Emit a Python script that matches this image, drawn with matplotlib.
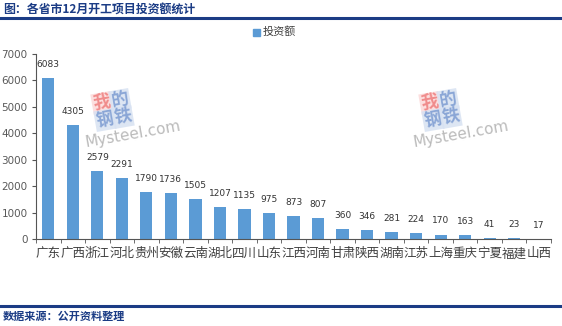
import matplotlib
matplotlib.use("Agg")
import matplotlib.pyplot as plt
from matplotlib.patches import Rectangle

plt.rcParams['font.family'] = ['Noto Sans CJK SC', 'DejaVu Sans']

provinces = ["广东", "广西", "浙江", "河北", "贵州", "安徽", "云南", "湖北", "四川", "山东",
             "江西", "河南", "甘肃", "陕西", "湖南", "江苏", "上海", "重庆", "宁夏", "福建", "山西"]
investment = [6083, 4305, 2579, 2291, 1790, 1736, 1505, 1207, 1135, 975,
              873, 807, 360, 346, 281, 224, 170, 163, 41, 23, 17]
y_ticks = [0, 1000, 2000, 3000, 4000, 5000, 6000, 7000]

W, H = 562, 326
fig = plt.figure(figsize=(W / 100, H / 100), dpi=100)
fig.patch.set_facecolor("white")

def fx(px):
    return px / W

def fy(py):
    return 1 - py / H

ax = fig.add_axes([fx(36), fy(239), fx(551) - fx(36), fy(54) - fy(239)])

bar_color = "#5B9BD5"
x = range(len(provinces))
ax.bar(x, investment, width=0.5, color=bar_color, label="投资额", zorder=2)

for xi, v in zip(x, investment):
    ax.annotate(f"{v}", (xi, v), xytext=(0, 6.5), textcoords="offset points",
                ha="center", va="bottom", fontsize=6.5, color="#333333",
                family="DejaVu Sans")

ax.set_xlim(-0.5, len(provinces) - 0.5)
ax.set_ylim(0, 7000)
ax.set_yticks(y_ticks)
ax.set_yticklabels([str(t) for t in y_ticks], fontsize=7.5, color="#595959", family="DejaVu Sans")
ax.set_xticks(list(x))
ax.set_xticklabels(provinces, fontsize=9, color="#404040")
ax.set_xticks([i + 0.5 for i in range(-1, len(provinces))], minor=True)
ax.tick_params(axis="x", which="major", length=0, pad=6)
ax.tick_params(axis="x", which="minor", length=3, color="#555555", direction="out")
ax.tick_params(axis="y", length=3, color="#555555", pad=3)

for s in ["top", "right"]:
    ax.spines[s].set_visible(False)
for s in ["left", "bottom"]:
    ax.spines[s].set_color("#555555")
    ax.spines[s].set_linewidth(0.8)

# legend
fig.patches.append(Rectangle((fx(253), fy(35.5)), fx(7), fy(28.5) - fy(35.5),
                             transform=fig.transFigure, color=bar_color))
fig.text(fx(263), fy(32), "投资额", fontsize=8, color="#404040", va="center", ha="left")

# header and footer
navy = "#1B3C85"
fig.text(fx(3), fy(9), "图：各省市12月开工项目投资额统计", fontsize=8.6, fontweight="bold",
         color=navy, va="center", ha="left")
fig.add_artist(plt.Line2D([0, 1], [fy(18), fy(18)], color=navy, linewidth=2.2))
fig.add_artist(plt.Line2D([0, 1], [fy(305.5), fy(305.5)], color=navy, linewidth=2.2))
fig.text(fx(3), fy(316), "数据来源：公开资料整理", fontsize=8, fontweight="bold",
         color=navy, va="center", ha="left")


def watermark(x0, y0):
    rot = 10
    cells = [("我", 0, 0, "#F08C8C", "#FCDADA"), ("的", 1, 0, "#8AA6D6", "#D8E2F2"),
             ("钢", 0, 1, "#8AA6D6", "#D8E2F2"), ("铁", 1, 1, "#8AA6D6", "#D8E2F2")]
    for ch, cx, cy, col, bg in cells:
        px = x0 + cx * 18 + cy * 3
        py = y0 + cy * 17 - cx * 3
        fig.text(fx(px), fy(py), ch, fontsize=12.5, fontweight="bold", color=col,
                 ha="center", va="center", rotation=rot,
                 bbox=dict(boxstyle="square,pad=0.08", fc=bg, ec="none", alpha=0.85))
    fig.text(fx(x0 + 31), fy(y0 + 31), "Mysteel.com", fontsize=11, color="#BBBBBB",
             ha="center", va="center", rotation=rot, family="DejaVu Sans")


watermark(102, 103)
watermark(430, 103)

fig.savefig("out.png", dpi=100, facecolor="white")
